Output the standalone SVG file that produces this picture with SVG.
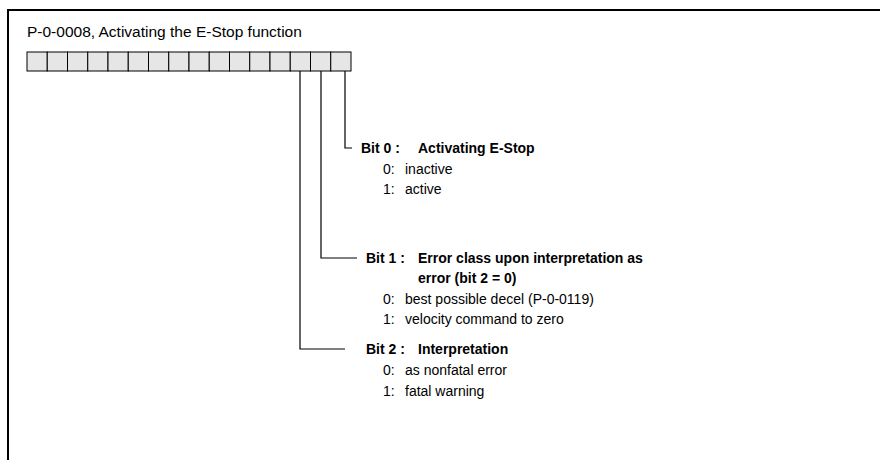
<svg xmlns="http://www.w3.org/2000/svg" width="880" height="460" viewBox="0 0 880 460">
<style>
text{font-family:"Liberation Sans",Arial,sans-serif;fill:#000}
.t{font-size:15.5px}
.b{font-size:14px;font-weight:bold}
.n{font-size:14px}
.box{fill:#e6e6e6;stroke:#000;stroke-width:1}
.c{fill:none;stroke:#000;stroke-width:1.2}
.f{fill:none;stroke:#000;stroke-width:2}
</style>
<rect width="880" height="460" fill="#fff"/>
<path class="f" d="M8,460 V10 H880"/>
<text class="t" x="27" y="37">P-0-0008, Activating the E-Stop function</text>
<g id="register">
<rect class="box" x="27" y="52" width="20.25" height="19"/>
<rect class="box" x="47.25" y="52" width="20.25" height="19"/>
<rect class="box" x="67.5" y="52" width="20.25" height="19"/>
<rect class="box" x="87.75" y="52" width="20.25" height="19"/>
<rect class="box" x="108" y="52" width="20.25" height="19"/>
<rect class="box" x="128.25" y="52" width="20.25" height="19"/>
<rect class="box" x="148.5" y="52" width="20.25" height="19"/>
<rect class="box" x="168.75" y="52" width="20.25" height="19"/>
<rect class="box" x="189" y="52" width="20.25" height="19"/>
<rect class="box" x="209.25" y="52" width="20.25" height="19"/>
<rect class="box" x="229.5" y="52" width="20.25" height="19"/>
<rect class="box" x="249.75" y="52" width="20.25" height="19"/>
<rect class="box" x="270" y="52" width="20.25" height="19"/>
<rect class="box" x="290.25" y="52" width="20.25" height="19"/>
<rect class="box" x="310.5" y="52" width="20.25" height="19"/>
<rect class="box" x="330.75" y="52" width="20.25" height="19"/>
</g>
<g id="connectors">
<path class="c" d="M345,71 V148 H352"/>
<path class="c" d="M321,71 V258 H357"/>
<path class="c" d="M300,71 V349 H345"/>
</g>
<g id="bit0">
<text class="b" x="361" y="153">Bit 0 :</text>
<text class="b" x="418" y="153">Activating E-Stop</text>
<text class="n" x="383" y="174">0:</text>
<text class="n" x="405" y="174">inactive</text>
<text class="n" x="383" y="194">1:</text>
<text class="n" x="405" y="194">active</text>
</g>
<g id="bit1">
<text class="b" x="366" y="263">Bit 1 :</text>
<text class="b" x="418" y="263">Error class upon interpretation as</text>
<text class="b" x="418" y="283">error (bit 2 = 0)</text>
<text class="n" x="383" y="304">0:</text>
<text class="n" x="405" y="304">best possible decel (P-0-0119)</text>
<text class="n" x="383" y="324">1:</text>
<text class="n" x="405" y="324">velocity command to zero</text>
</g>
<g id="bit2">
<text class="b" x="366" y="354">Bit 2 :</text>
<text class="b" x="418" y="354">Interpretation</text>
<text class="n" x="383" y="375">0:</text>
<text class="n" x="405" y="375">as nonfatal error</text>
<text class="n" x="383" y="396">1:</text>
<text class="n" x="405" y="396">fatal warning</text>
</g>
</svg>
